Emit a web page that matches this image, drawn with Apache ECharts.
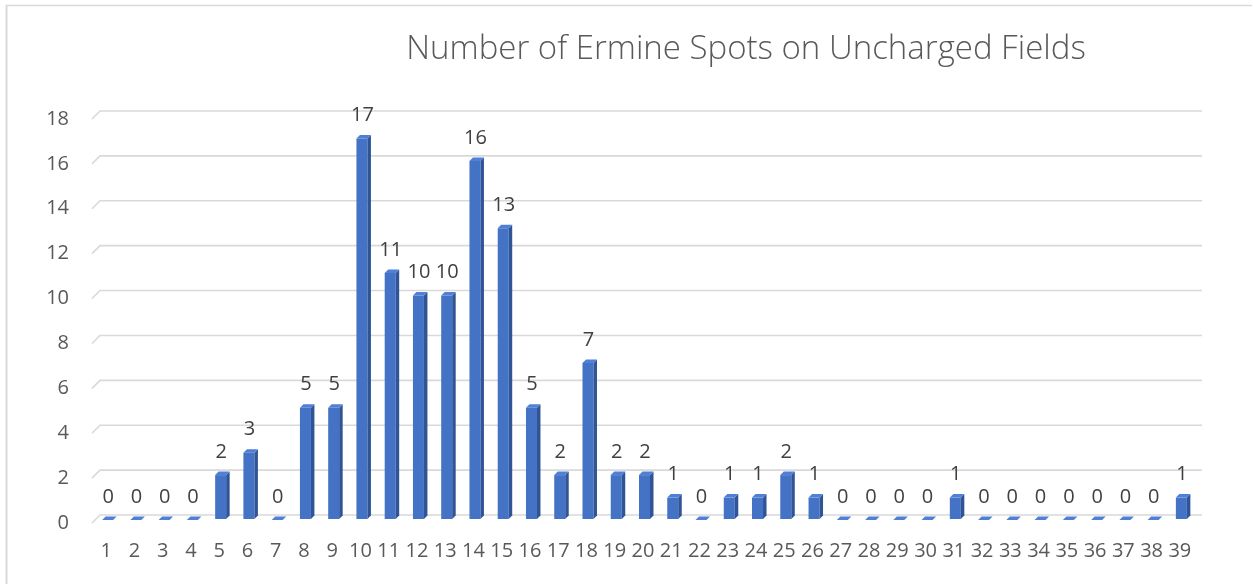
<!DOCTYPE html>
<html>
<head>
<meta charset="utf-8">
<script src="https://cdn.jsdelivr.net/npm/echarts@6/dist/echarts.min.js"></script>
<style>
  html, body { margin: 0; padding: 0; background: #fff; }
  #chart { width: 1253px; height: 584px; }
</style>
</head>
<body>
<div id="chart"></div>
<script>
const spotCounts = ['1', '2', '3', '4', '5', '6', '7', '8', '9', '10', '11', '12', '13', '14', '15', '16', '17', '18', '19', '20',
  '21', '22', '23', '24', '25', '26', '27', '28', '29', '30', '31', '32', '33', '34', '35', '36', '37', '38', '39']
const fieldNums = [0, 0, 0, 0, 2, 3, 0, 5, 5, 17, 11, 10, 10, 16, 13, 5, 2, 7, 2, 2,
  1, 0, 1, 1, 2, 1, 0, 0, 0, 0, 1, 0, 0, 0, 0, 0, 0, 0, 1]
const yTicks = [0, 2, 4, 6, 8, 10, 12, 14, 16, 18]

const textColor = '#595959'
const depth = 8

const chart = echarts.init(document.getElementById('chart'))

// back-wall grid lines with the little 3D floor slant on the left
const renderGridLine = (params, api) => {
  const cs = params.coordSys
  const y = api.coord([0, api.value(1)])[1]
  return {
    type: 'polyline',
    shape: {
      points: [[cs.x, y], [cs.x + depth, y - depth], [cs.x + cs.width + depth, y - depth]]
    },
    style: { stroke: '#d9d9d9', lineWidth: 1.6, fill: null }
  }
}

// 3D-looking column: front face, darker side, lighter top + value label
const renderColumn = (params, api) => {
  const value = api.value(1)
  const top = api.coord([api.value(0), value])
  const base = api.coord([api.value(0), 0])
  const x0 = top[0] - 4
  const x1 = top[0] + 7
  const yt = top[1] - 3
  const yb = base[1] - 4
  const d = 3.5
  const children = []
  if (yb - yt > 0.5) {
    children.push({
      type: 'rect',
      shape: { x: x0, y: yt, width: x1 - x0, height: yb - yt },
      style: { fill: '#4472c4' }
    })
    children.push({
      type: 'polygon',
      shape: { points: [[x1, yt], [x1 + d, yt - d], [x1 + d, yb - d], [x1, yb]] },
      style: { fill: '#2f5597' }
    })
  }
  children.push({
    type: 'polygon',
    shape: { points: [[x0, yt], [x1, yt], [x1 + d, yt - d], [x0 + d, yt - d]] },
    style: { fill: '#4f7fd6' }
  })
  children.push({
    type: 'text',
    style: {
      text: String(value),
      x: top[0] + 2,
      y: yt - 23,
      align: 'center',
      verticalAlign: 'middle',
      fill: '#404040',
      fontSize: 20,
      fontFamily: 'Open Sans'
    }
  })
  return { type: 'group', children }
}

chart.setOption({
  animation: false,
  textStyle: { fontFamily: 'Open Sans' },
  title: {
    text: 'Number of Ermine Spots on Uncharged Fields',
    left: 741,
    textAlign: 'center',
    top: 28,
    textStyle: { color: '#595959', fontSize: 33, fontWeight: 300, fontFamily: 'Open Sans' }
  },
  graphic: [
    { type: 'line', shape: { x1: 6.5, y1: 5, x2: 6.5, y2: 584 }, style: { stroke: '#d9d9d9', lineWidth: 2 } },
    { type: 'line', shape: { x1: 6, y1: 5.5, x2: 1252, y2: 5.5 }, style: { stroke: '#d9d9d9', lineWidth: 1.5 } }
  ],
  grid: { left: 92, right: 59, top: 119, bottom: 61 },
  xAxis: {
    type: 'category',
    data: spotCounts,
    axisLine: { show: false },
    axisTick: { show: false },
    axisLabel: { color: textColor, fontSize: 20, margin: 18, interval: 0 }
  },
  yAxis: {
    type: 'value',
    min: 0,
    max: 18,
    interval: 2,
    splitLine: { show: false },
    axisLabel: { color: textColor, fontSize: 20, margin: 23 }
  },
  series: [
    {
      type: 'custom',
      renderItem: renderGridLine,
      data: yTicks.map((v) => [0, v]),
      encode: { x: 0, y: 1 },
      clip: false,
      silent: true,
      z: 1
    },
    {
      type: 'custom',
      renderItem: renderColumn,
      data: fieldNums.map((v, i) => [i, v]),
      encode: { x: 0, y: 1 },
      clip: false,
      z: 2
    }
  ]
})
</script>
</body>
</html>
